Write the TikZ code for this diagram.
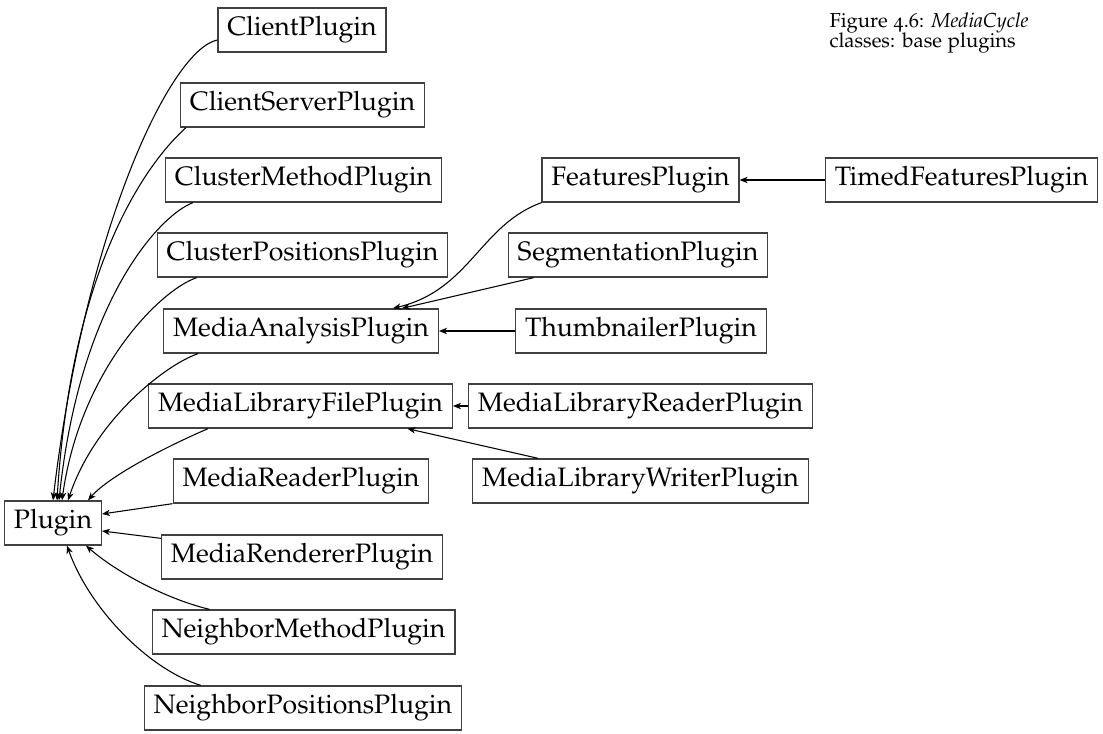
\documentclass[tikz,border=0pt]{standalone}
\usepackage[T1]{fontenc}
\usepackage[osf]{mathpazo}
\usetikzlibrary{arrows.meta,calc}
\newcommand\mycapfont{\fontsize{7.6}{7.6}\selectfont\lineskiplimit=-20pt\relax\lineskip=0pt\relax}
\tikzset{
  cls/.style={draw=black!75, line width=0.5pt, minimum height=16.5pt,
    inner xsep=3.5pt, inner ysep=0pt, font=\fontsize{10}{12}\selectfont, anchor=center},
  inh/.style={-{Stealth[length=3pt,width=2.4pt,inset=0.9pt]}, line width=0.4pt},
}
\begin{document}
\begin{tikzpicture}[x=0.375pt,y=-0.375pt]
\useasboundingbox (0,0) rectangle (1103,734);
\node[cls] (client) at (302,30) {ClientPlugin};
\node[cls] (clientserver) at (302.5,105) {ClientServerPlugin};
\node[cls] (clustermethod) at (303.5,180) {ClusterMethodPlugin};
\node[cls] (clusterpos) at (302.5,255) {ClusterPositionsPlugin};
\node[cls] (analysis) at (301,331) {MediaAnalysisPlugin};
\node[cls] (libfile) at (300.5,406) {MediaLibraryFilePlugin};
\node[cls] (reader) at (301,481) {MediaReaderPlugin};
\node[cls] (plugin) at (53,523) {Plugin};
\node[cls] (renderer) at (302,557) {MediaRendererPlugin};
\node[cls] (nmethod) at (303.5,632) {NeighborMethodPlugin};
\node[cls] (npos) at (303,708) {NeighborPositionsPlugin};
\node[cls] (features) at (640.5,180) {FeaturesPlugin};
\node[cls] (timed) at (961.5,180) {TimedFeaturesPlugin};
\node[cls] (segment) at (638,255) {SegmentationPlugin};
\node[cls] (thumb) at (641,331) {ThumbnailerPlugin};
\node[cls] (libreader) at (640.5,406) {MediaLibraryReaderPlugin};
\node[cls] (libwriter) at (640.5,481) {MediaLibraryWriterPlugin};
\node[anchor=north west, align=left, inner sep=0pt, font=\mycapfont] (caption) at (829,12) {Figure 4.6: \textit{MediaCycle}\\classes: base plugins};

\draw[inh] ($(client.west)+(0,10)$) .. controls (170,50) and (85,230) .. (plugin.north);
\draw[inh] ($(clientserver.south west)+(6,0)$) .. controls (150,160) and (72,260) .. ($(plugin.north)+(4,0)$);
\draw[inh] ($(clustermethod.south west)+(28,0)$) .. controls (160,215) and (80,300) .. ($(plugin.north)+(6,0)$);
\draw[inh] ($(clusterpos.south west)+(40,0)$) .. controls (160,290) and (80,370) .. ($(plugin.north)+(9,0)$);
\draw[inh] ($(analysis.south west)+(35,0)$) .. controls (165,365) and (95,420) .. ($(plugin.north)+(15,0)$);
\draw[inh] ($(libfile.south west)+(60,0)$) .. controls (170,445) and (110,475) .. ($(plugin.north)+(35,0)$);
\draw[inh] (reader.south west) -- ($(plugin.east)+(0,-9)$);
\draw[inh] ($(renderer.north west)+(0,4)$) -- ($(plugin.east)+(0,8)$);
\draw[inh] ($(nmethod.north west)+(58,0)$) .. controls (170,600) and (120,575) .. ($(plugin.south)+(33,0)$);
\draw[inh] ($(npos.north west)+(57,0)$) .. controls (150,670) and (90,610) .. ($(plugin.south)+(14,0)$);
\draw[inh] (features.south west) .. controls (480,225) and (470,290) .. ($(analysis.north)+(92,0)$);
\draw[inh] ($(segment.south west)+(26,0)$) -- ($(analysis.north)+(101,0)$);
\draw[inh] (thumb.west) -- (analysis.east);
\draw[inh] (timed.west) -- (features.east);
\draw[inh] (libreader.west) -- (libfile.east);
\draw[inh] ($(libwriter.north west)+(66,0)$) -- ($(libfile.south)+(107,0)$);
\end{tikzpicture}
\end{document}
